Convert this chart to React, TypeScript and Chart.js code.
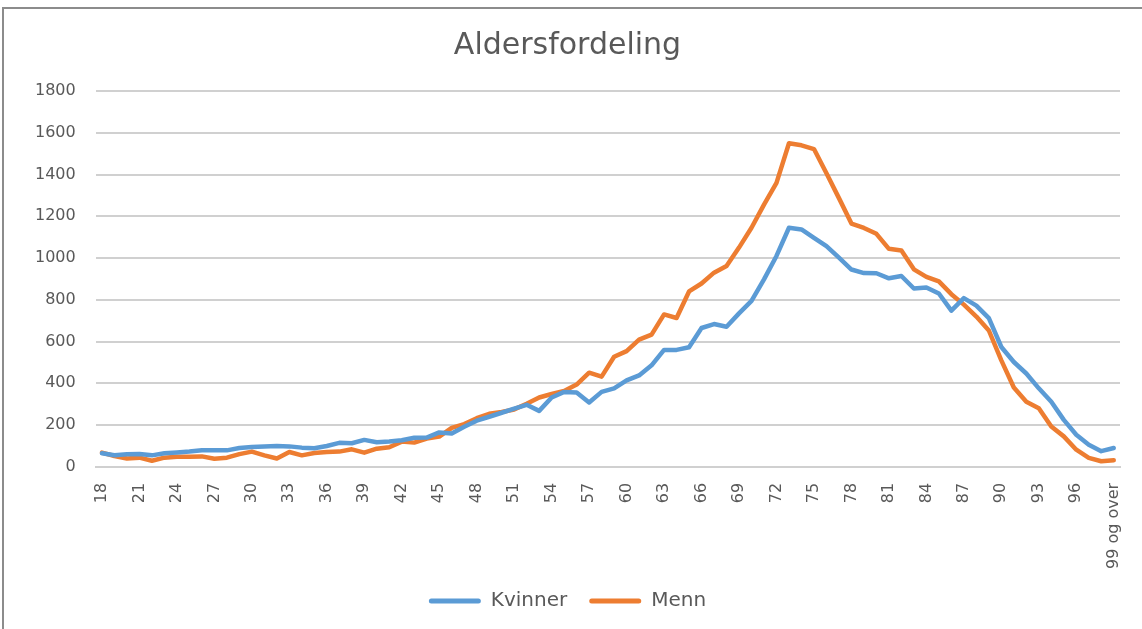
import React, { useEffect, useRef } from "react";
import { Chart, registerables } from "chart.js";

Chart.register(...registerables);

const ages: string[] = [];
for (let a = 18; a <= 98; a++) ages.push(String(a));
ages.push("99 og over");

const kvinner: number[] = [
  65, 56, 60, 62, 55, 65, 69, 73, 79, 79, // 18-27
  79, 90, 95, 97, 100, 98, 92, 89, 100, 115, // 28-37
  113, 129, 118, 121, 127, 139, 140, 165, 160, 192, // 38-47
  221, 240, 259, 279, 297, 268, 332, 359, 356, 308, // 48-57
  359, 376, 414, 438, 486, 560, 560, 573, 665, 684, // 58-67
  671, 735, 795, 898, 1010, 1145, 1137, 1097, 1057, 1002, // 68-77
  945, 928, 927, 903, 914, 854, 859, 830, 748, 808, // 78-87
  772, 712, 574, 502, 447, 376, 312, 225, 154, 106, // 88-97
  75, 90, // 98, 99+
];

const menn: number[] = [
  68, 52, 40, 44, 29, 44, 48, 48, 50, 39, // 18-27
  44, 61, 73, 55, 40, 71, 55, 66, 71, 73, // 28-37
  84, 68, 87, 94, 121, 116, 135, 145, 187, 205, // 38-47
  233, 254, 263, 275, 302, 332, 349, 363, 394, 451, // 48-57
  432, 527, 554, 609, 633, 730, 713, 840, 878, 930, // 58-67
  962, 1050, 1145, 1256, 1360, 1550, 1540, 1522, 1406, 1287, // 68-77
  1165, 1144, 1116, 1044, 1036, 946, 910, 888, 827, 777, // 78-87
  720, 653, 510, 380, 312, 281, 193, 146, 82, 43, // 88-97
  27, 32, // 98, 99+
];

const yTicks: number[] = [0, 200, 400, 600, 800, 1000, 1200, 1400, 1600, 1800];

const FONT = "'DejaVu Sans', sans-serif";
const TEXT = "#595959";

export default function App() {
  const ref = useRef<HTMLCanvasElement | null>(null);

  useEffect(() => {
    if (!ref.current) return;
    const chart = new Chart(ref.current, {
      type: "line",
      data: {
        labels: ages,
        datasets: [
          {
            label: "Kvinner",
            data: kvinner,
            borderColor: "#5B9BD5",
            backgroundColor: "#5B9BD5",
            borderWidth: 4.5,
            pointRadius: 0,
            tension: 0,
            borderJoinStyle: "round",
            borderCapStyle: "round",
          },
          {
            label: "Menn",
            data: menn,
            borderColor: "#ED7D31",
            backgroundColor: "#ED7D31",
            borderWidth: 4.5,
            pointRadius: 0,
            tension: 0,
            borderJoinStyle: "round",
            borderCapStyle: "round",
          },
        ],
      },
      options: {
        animation: false,
        responsive: false,
        maintainAspectRatio: false,
        layout: { padding: { left: 15, right: 22, top: 0, bottom: 8 } },
        plugins: {
          title: {
            display: true,
            text: "Aldersfordeling",
            color: TEXT,
            font: { family: FONT, size: 30, weight: "normal" },
            padding: { top: 28, bottom: 27 },
          },
          legend: {
            position: "bottom",
            labels: {
              color: TEXT,
              font: { family: FONT, size: 20 },
              boxWidth: 52,
              boxHeight: 5,
              useBorderRadius: true,
              borderRadius: 2.5,
              padding: 22,
              generateLabels: (c: any) =>
                c.data.datasets.map((ds: any, i: number) => ({
                  text: ds.label,
                  fillStyle: ds.borderColor,
                  strokeStyle: ds.borderColor,
                  lineWidth: 0,
                  fontColor: TEXT,
                  datasetIndex: i,
                  hidden: false,
                  borderRadius: 2.5,
                })),
            },
          },
          tooltip: { enabled: false },
        },
        scales: {
          x: {
            offset: true,
            grid: { display: false },
            border: { display: true, color: "#d0d0d0", width: 2 },
            afterFit: (axis: any) => {
              axis.height -= 8;
            },
            ticks: {
              autoSkip: false,
              minRotation: 90,
              maxRotation: 90,
              padding: 8,
              color: TEXT,
              font: { family: FONT, size: 16 },
              callback: (_v: any, i: number) => (i % 3 === 0 ? ages[i] : ""),
            },
          },
          y: {
            min: 0,
            max: 1800,
            afterBuildTicks: (axis: any) => {
              axis.ticks = yTicks.map((v) => ({ value: v }));
            },
            grid: { color: "#d0d0d0", lineWidth: 2, drawTicks: false },
            border: { display: false },
            ticks: {
              padding: 20,
              color: TEXT,
              font: { family: FONT, size: 16 },
              callback: (v: any) => String(v),
            },
          },
        },
      },
    });
    return () => chart.destroy();
  }, []);

  return (
    <div
      style={{
        position: "fixed",
        left: 0,
        top: 0,
        width: 1142,
        height: 629,
        background: "#fff",
        overflow: "hidden",
      }}
    >
      <canvas ref={ref} width={1142} height={629} style={{ display: "block" }} />
      <div
        style={{
          position: "absolute",
          left: 2,
          top: 7,
          width: 1200,
          height: 700,
          borderLeft: "2px solid #8c8c8c",
          borderTop: "2px solid #8c8c8c",
          pointerEvents: "none",
        }}
      />
    </div>
  );
}
